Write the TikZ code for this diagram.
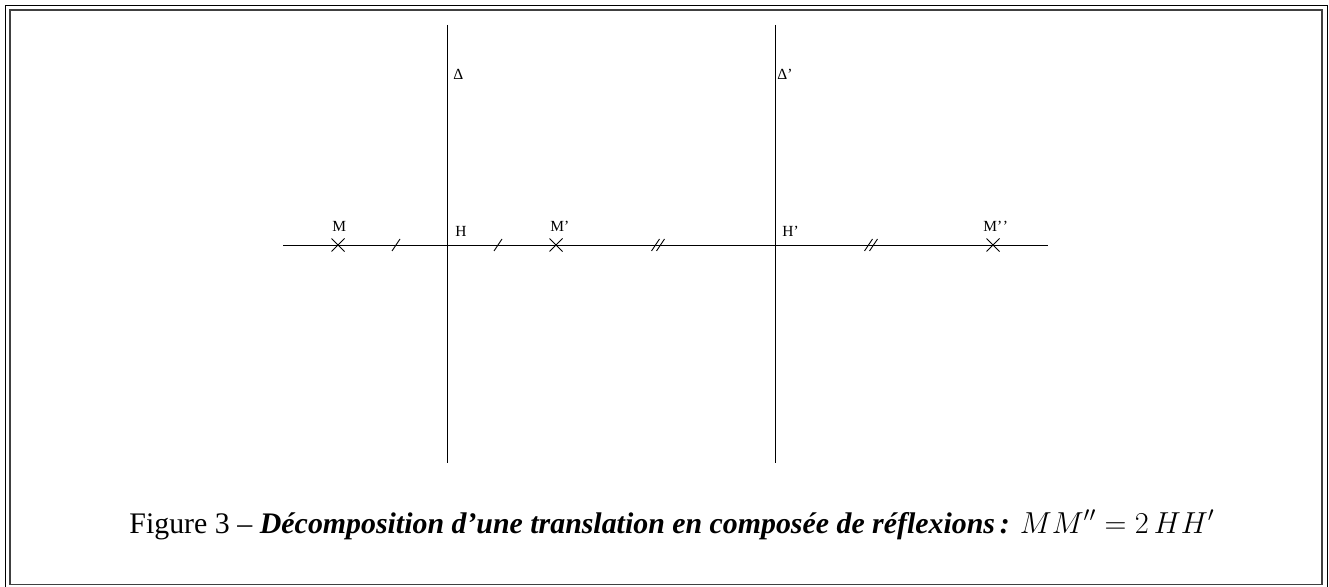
\documentclass[tikz,border=0pt]{standalone}
\usepackage{fontspec}
\setmainfont{Liberation Serif}
\begin{document}
\begin{tikzpicture}[x=0.02cm, y=-0.02cm]
    \tikzset{
        frameline/.style={line width=0.8pt},
        geo/.style={line width=0.5pt},
        ptlabel/.style={font=\fontsize{8.8}{10}\selectfont, inner sep=0pt, anchor=base west},
        caption/.style={font=\fontsize{17}{20}\selectfont, inner sep=0pt, anchor=base},
    }
    \useasboundingbox (0,0) rectangle (1329,587);

    % Double frame round the figure
    \draw[frameline] (5.5,5.5) rectangle (1327.5,588);
    \draw[frameline, black!75] (10,10) rectangle (1322,584.5);

    % Points on the horizontal line
    \coordinate (M)  at (338,245);
    \coordinate (H)  at (447,245);
    \coordinate (Mp) at (556,245);
    \coordinate (Hp) at (775,245);
    \coordinate (Mpp) at (993,245);

    % Horizontal line through M, H, M', H', M''
    \coordinate (Lstart) at (283,245);
    \coordinate (Lend)   at (1048,245);
    \draw[geo] (Lstart) -- (Lend);

    % The two axes Delta and Delta'
    \coordinate (Dtop) at (447,25);
    \coordinate (Dbot) at (447,463);
    \coordinate (Dptop) at (775,25);
    \coordinate (Dpbot) at (775,463);
    \draw[geo] (Dtop) -- (Dbot);
    \draw[geo] (Dptop) -- (Dpbot);

    % Crosses at the points
    \foreach \p in {M, Mp, Mpp} {
        \draw[geo] (\p) +(-6.5,-6.5) -- +(6.5,6.5);
        \draw[geo] (\p) +(-6.5,6.5) -- +(6.5,-6.5);
    }

    % Equal-length marks: single slash on MH and HM'
    \foreach \x in {396, 498} {
        \draw[geo] (\x-4,251) -- (\x+4,239);
    }
    % double slash on M'H' and H'M''
    \foreach \x in {658, 871} {
        \foreach \d in {-2.5, 2.5} {
            \draw[geo] (\x+\d-4,251) -- (\x+\d+4,239);
        }
    }

    % Labels
    \node[ptlabel] (labM)   at (332,232) {M};
    \node[ptlabel] (labMp)  at (550,232) {M’};
    \node[ptlabel] (labMpp) at (983,232) {M’\kern0.3pt’};
    \node[ptlabel] (labH)   at (455,237) {H};
    \node[ptlabel] (labHp)  at (782,237) {H’};
    \node[ptlabel] (labD)   at (453,80) {Δ};
    \node[ptlabel] (labDp)  at (777,80) {Δ’};

    % Caption
    \node[caption] (cap) at (672,533)
        {Figure 3 -- \textbf{\textit{Décomposition d’une translation en composée de réflexions\,:}} $MM''=2\,HH'$};
\end{tikzpicture}
\end{document}
